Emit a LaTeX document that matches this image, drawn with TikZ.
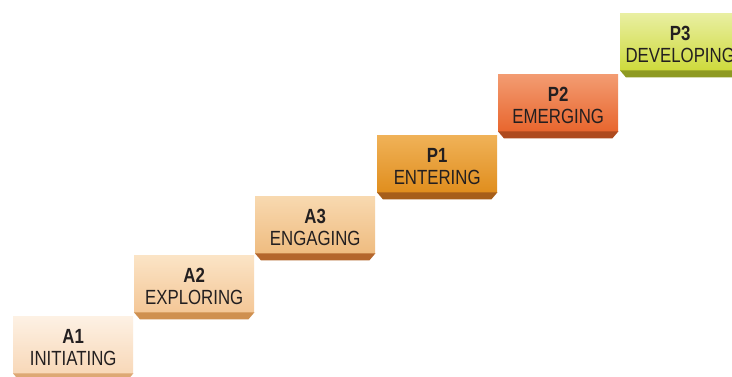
\documentclass[tikz,border=0pt]{standalone}
\usepackage{fontspec}
\setmainfont{Liberation Sans}[FakeStretch=0.82]
\definecolor{txt}{HTML}{231F20}
\definecolor{aonet}{HTML}{FDF1E4}\definecolor{aoneb}{HTML}{F8D8B8}\definecolor{aonev}{HTML}{DDA874}
\definecolor{atwot}{HTML}{FBE4C6}\definecolor{atwob}{HTML}{F4C797}\definecolor{atwov}{HTML}{CF9050}
\definecolor{athrt}{HTML}{F8D9B0}\definecolor{athrb}{HTML}{EFBC80}\definecolor{athrv}{HTML}{B4662C}
\definecolor{ponet}{HTML}{F0B258}\definecolor{poneb}{HTML}{E08E1E}\definecolor{ponev}{HTML}{A65E1A}
\definecolor{ptwot}{HTML}{F39C72}\definecolor{ptwob}{HTML}{E8662E}\definecolor{ptwov}{HTML}{AE4A1E}
\definecolor{pthrt}{HTML}{E9EFA2}\definecolor{pthrb}{HTML}{CEDA3C}\definecolor{pthrv}{HTML}{8E9A22}
\tikzset{
  stepface/.style={rectangle, minimum width=120pt, minimum height=57pt, inner sep=0pt,
    anchor=north west},
  steptext/.style={align=center, text=txt, font=\fontsize{20.5}{22}\selectfont, yshift=-3pt}
}
\newcommand{\stepbox}[7]{%
  \node[stepface, top color=#4, bottom color=#5,
        label={[steptext]center:#7}] (#1) at (#2,#3) {};
  \fill[#6] (#1.south west) -- (#1.south east) -- ([xshift=-6pt,yshift=-7pt]#1.south east)
     -- ([xshift=6pt,yshift=-7pt]#1.south west) -- cycle;
}
\begin{document}
\begin{tikzpicture}[x=1pt,y=-1pt]
\useasboundingbox (0,0) rectangle (732,377);
\clip (0,0) rectangle (732,377);
\fill[white] (0,0) rectangle (732,377);
\stepbox{a1}{13}{316}{aonet}{aoneb}{aonev}{\textbf{A1}\\INITIATING}
\stepbox{a2}{134}{255}{atwot}{atwob}{atwov}{\textbf{A2}\\EXPLORING}
\stepbox{a3}{255}{196}{athrt}{athrb}{athrv}{\textbf{A3}\\ENGAGING}
\stepbox{p1}{377}{135}{ponet}{poneb}{ponev}{\textbf{P1}\\ENTERING}
\stepbox{p2}{498}{74}{ptwot}{ptwob}{ptwov}{\textbf{P2}\\EMERGING}
\stepbox{p3}{620}{13}{pthrt}{pthrb}{pthrv}{\textbf{P3}\\DEVELOPING}
\end{tikzpicture}
\end{document}
